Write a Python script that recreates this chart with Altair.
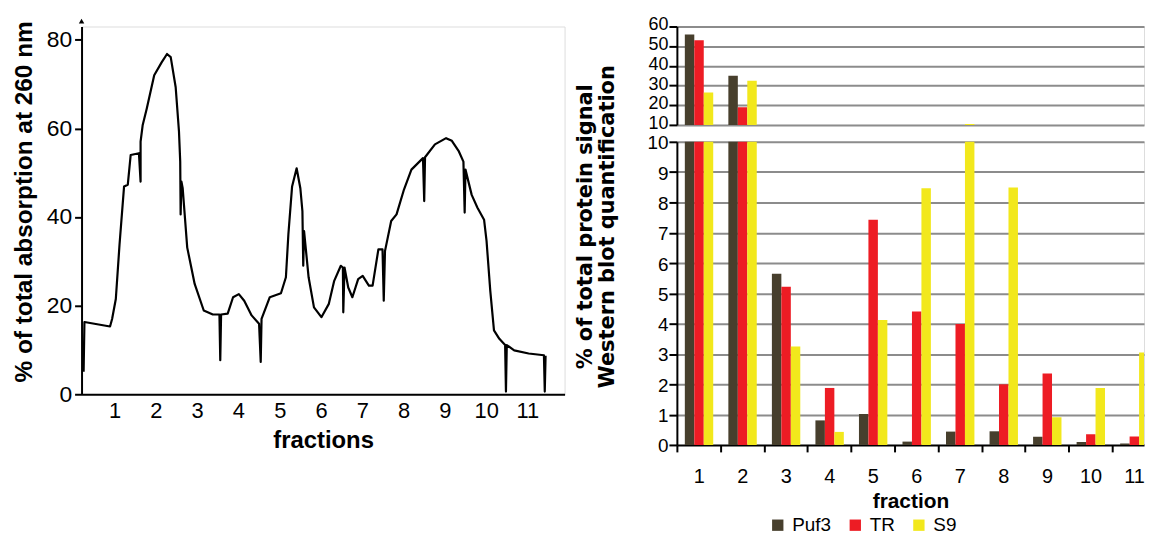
import altair as alt
import pandas as pd

FONT = "Liberation Sans"
TITLE_FONT_R = "DejaVu Sans"

# ---------------- left panel: absorption profile (traced) ----------------
frac_x = [0.25, 0.27, 0.89, 0.94, 1.03, 1.12, 1.23, 1.32, 1.39, 1.59, 1.63, 1.63, 1.68,
          1.78, 1.96, 2.14, 2.27, 2.36, 2.48, 2.56, 2.59, 2.60, 2.62, 2.65, 2.76, 2.94,
          3.16, 3.38, 3.54, 3.56, 3.58, 3.74, 3.87, 4.01, 4.14, 4.32, 4.50, 4.54, 4.56,
          4.76, 5.03, 5.15, 5.21, 5.30, 5.41, 5.50, 5.55, 5.57, 5.59, 5.70, 5.83, 6.01,
          6.19, 6.32, 6.48, 6.53, 6.54, 6.57, 6.66, 6.76, 6.90, 7.01, 7.16, 7.25, 7.39,
          7.49, 7.52, 7.55, 7.70, 7.83, 8.01, 8.19, 8.47, 8.50, 8.52, 8.76, 9.03, 9.17,
          9.34, 9.45, 9.48, 9.50, 9.65, 9.79, 9.95, 10.01, 10.10, 10.19, 10.32, 10.46,
          10.48, 10.50, 10.68, 11.03, 11.40, 11.42, 11.44]
absorption = [5.1, 16.3, 15.3, 17.0, 21.5, 33.8, 46.9, 47.3, 54.0, 54.4, 48.0, 57.0, 60.7,
              64.5, 72.0, 74.9, 76.8, 76.1, 69.3, 59.3, 52.5, 40.6, 48.0, 46.5, 33.1, 24.9,
              18.9, 18.0, 18.0, 7.7, 18.0, 18.2, 21.9, 22.6, 21.1, 17.8, 15.9, 7.3, 17.0,
              21.9, 22.8, 26.4, 36.1, 46.9, 51.0, 46.5, 41.3, 29.0, 36.8, 26.4, 19.6, 17.4,
              20.4, 25.6, 29.0, 28.6, 18.5, 28.6, 24.1, 21.9, 26.0, 26.7, 24.5, 24.5, 32.7,
              32.7, 21.1, 32.3, 39.1, 40.6, 46.2, 50.7, 53.3, 43.6, 53.5, 56.4, 57.8, 57.2,
              54.8, 52.5, 41.0, 50.7, 45.0, 42.1, 39.4, 34.6, 23.4, 14.4, 12.5, 11.1,
              0.6, 11.1, 9.9, 9.2, 8.8, 0.6, 8.7]
x_ticks_left = list(range(1, 12))
y_ticks_left = [0, 20, 40, 60, 80]
X_MIN, X_MAX = 0.2, 11.9
Y_MAX = 83.0
ARROW_Y = 84.2

# ---------------- right panel: western blot quantification ----------------
fraction_nums = list(range(1, 12))
proteins = ["Puf3", "TR", "S9"]
puf3 = [56, 35, 5.65, 0.81, 1.02, 0.11, 0.44, 0.45, 0.27, 0.10, 0.05]
tr = [53, 19, 5.22, 1.88, 7.43, 4.40, 3.99, 2.00, 2.36, 0.35, 0.28]
s9 = [26.5, 32.5, 3.25, 0.43, 4.12, 8.47, 10.5, 8.49, 0.91, 1.88, 3.05]
colors = ["#473f2d", "#ed1c24", "#f2e81c"]
top_ticks = [10, 20, 30, 40, 50, 60]
bottom_ticks = list(range(0, 11))

# band geometry in fraction units (each fraction occupies one unit)
GROUP_PAD = 0.1826    # gap before the first bar inside a fraction band
BAR_W = 0.2174        # bar width as a share of one fraction band
BAND_PX = 43.8
RIGHT_W = 470
RIGHT_X = (0.5, 0.5 + RIGHT_W / BAND_PX)  # visible x-range (last band cut at the edge)
HALF_BAND_PX = BAND_PX / 2

line_df = pd.DataFrame({"i": range(len(frac_x)), "x": frac_x, "y": absorption})

left_line = alt.Chart(line_df).mark_line(color="black", strokeWidth=2.2, strokeJoin="round").encode(
    x=alt.X("x:Q", scale=alt.Scale(domain=[X_MIN, X_MAX], nice=False, zero=False),
            axis=alt.Axis(values=x_ticks_left, ticks=False, grid=False, title="fractions",
                          labelFontSize=22, titleFontSize=24, labelPadding=6, titlePadding=8,
                          domainColor="black", domainWidth=2, labelColor="black",
                          titleColor="black", labelFont=FONT, titleFont=FONT,
                          titleFontWeight="bold", labelFlush=False)),
    y=alt.Y("y:Q", scale=alt.Scale(domain=[0, Y_MAX], nice=False),
            axis=alt.Axis(values=y_ticks_left, grid=False, title="% of total absorption at 260 nm",
                          tickSize=7, tickColor="black", tickWidth=2, labelFontSize=23,
                          titleFontSize=24.5, labelPadding=3, titlePadding=10, titleY=176,
                          domainColor="black", domainWidth=2, labelColor="black",
                          titleColor="black", labelFont=FONT, titleFont=FONT,
                          titleFontWeight="bold")),
    order="i:Q",
)
arrow_df = pd.DataFrame({"x": [X_MIN], "y": [ARROW_Y]})
arrow = alt.Chart(arrow_df).mark_point(shape="triangle-up", filled=True, color="black",
                                       size=30, opacity=1).encode(x="x:Q", y="y:Q")
left = alt.layer(left_line, arrow).properties(width=486, height=370)

rows = []
for j, (p, vals) in enumerate(zip(proteins, [puf3, tr, s9])):
    for f, v in zip(fraction_nums, vals):
        rows.append({"fraction": f, "protein": p, "pidx": j, "value": v})
bars_df = pd.DataFrame(rows)

x_scale = alt.Scale(domain=list(RIGHT_X), nice=False, zero=False)
color = alt.Color("protein:N", scale=alt.Scale(domain=proteins, range=colors),
                  legend=alt.Legend(title=None, orient="none", direction="horizontal",
                                    legendX=691, legendY=492, symbolType="square",
                                    symbolSize=130, symbolStrokeWidth=0, labelFontSize=19,
                                    labelFont=FONT, labelColor="black", labelOffset=5,
                                    columnPadding=14))

axis_common = dict(tickColor="black", tickWidth=2, tickSize=8, domainColor="black",
                   domainWidth=2, labelFont=FONT, labelColor="black",
                   gridWidth=2, labelPadding=1, labelOverlap=False)
GRID = "#8c8c8c"

bar_base = alt.Chart(bars_df).transform_calculate(
    x0=f"datum.fraction - 0.5 + {GROUP_PAD} + datum.pidx * {BAR_W}",
    x1=f"datum.fraction - 0.5 + {GROUP_PAD} + (datum.pidx + 1) * {BAR_W}",
)

top = bar_base.mark_bar(clip=True).encode(
    x=alt.X("x0:Q", scale=x_scale, axis=None),
    x2="x1:Q",
    y=alt.Y("value:Q", scale=alt.Scale(domain=[10, 60], nice=False, zero=False),
            axis=alt.Axis(values=top_ticks, title=None, grid=True, labelFontSize=18,
                          labelOffset=-1.5, gridColor=GRID, **axis_common)),
    y2=alt.datum(0),
    color=color,
).properties(width=RIGHT_W, height=99)

bottom = bar_base.mark_bar(clip=True).encode(
    x=alt.X("x0:Q", scale=x_scale,
            axis=alt.Axis(title="fraction", values=fraction_nums, format="d", labelAngle=0,
                          tickSize=7, domain=False, tickOffset=-HALF_BAND_PX,
                          labelOffset=HALF_BAND_PX, tickColor="black", tickWidth=2,
                          labelFontSize=20, labelFont=FONT, labelColor="black", labelPadding=15,
                          labelFlush=False, titleFontSize=21, titleFont=FONT,
                          titleColor="black", titleFontWeight="bold", titlePadding=4,
                          grid=False)),
    x2="x1:Q",
    y=alt.Y("value:Q", scale=alt.Scale(domain=[0, 10], nice=False),
            axis=alt.Axis(values=bottom_ticks, grid=True, labelFontSize=19, labelOffset=1,
                          gridColor={"condition": {"test": "datum.value === 0", "value": "black"},
                                     "value": GRID},
                          title=["% of total protein signal", "Western blot quantification"],
                          titleFontSize=21, titleFont=TITLE_FONT_R, titleColor="black",
                          titleFontWeight="bold", titleLineHeight=22, titleBaseline="top",
                          titleX=-103, titleY=85, titleAngle=270, **axis_common)),
    y2=alt.datum(0),
    color=color,
).properties(width=RIGHT_W, height=305)

right = alt.vconcat(top, bottom, spacing=17, bounds="flush")

chart = alt.hconcat(left, right, spacing=113, bounds="flush").properties(
    padding={"left": 2, "top": 6, "right": 0, "bottom": 0}
).configure_view(stroke=None).configure(background="white")

chart.save("out.html", embed_options={"renderer": "svg", "actions": False})
